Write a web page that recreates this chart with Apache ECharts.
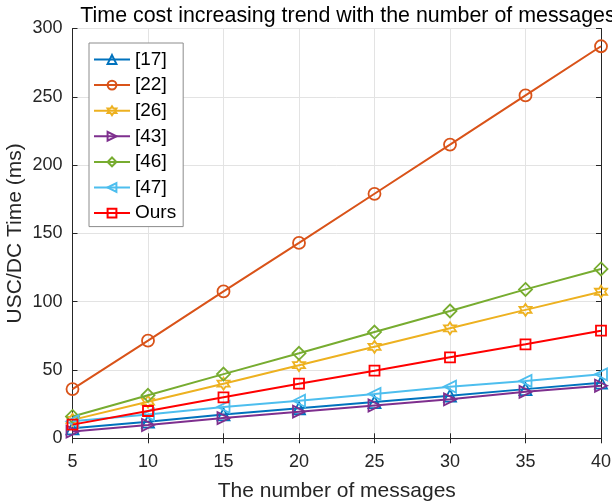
<!DOCTYPE html>
<html><head><meta charset="utf-8">
<script src="https://cdn.jsdelivr.net/npm/echarts@6/dist/echarts.min.js"></script>
<style>html,body{margin:0;padding:0;background:#fff}#c{width:612px;height:504px}</style>
</head><body><div id="c"></div>
<script>
const xs = [5, 10, 15, 20, 25, 30, 35, 40];
const s17 = [7.3, 12.2, 17.5, 22, 26.5, 31.2, 36, 40.7];
const s22 = [36, 71.5, 107.5, 143, 179, 215, 251, 287];
const s26 = [13.5, 26.8, 40, 53.5, 67, 80.5, 94, 107.3];
const s43 = [4.9, 9.7, 14.8, 19.5, 24, 28.5, 34, 38.5];
const s46 = [16, 31.5, 47, 62.2, 77.8, 93.2, 109, 124];
const s47 = [12.5, 17.5, 23, 27.5, 32.5, 37.8, 42, 46.8];
const sOurs = [10, 20, 30, 40, 49.5, 59.3, 68.8, 78.8];
const names = ['[17]', '[22]', '[26]', '[43]', '[46]', '[47]', 'Ours'];
const values = [s17, s22, s26, s43, s46, s47, sOurs];
const colors = ['#0072BD', '#D95319', '#EDB120', '#7E2F8E', '#77AC30', '#4DBEEE', '#FF0000'];
const hexagram = 'path://M0,-10 L2.9,-5 L8.66,-5 L5.8,0 L8.66,5 L2.9,5 L0,10 L-2.9,5 L-8.66,5 L-5.8,0 L-8.66,-5 L-2.9,-5 Z';
const symbols = ['triangle', 'circle', hexagram, 'triangle', 'diamond', 'triangle', 'rect'];
const rotations = [0, 0, 0, -90, 0, 90, 0];
const sizes = [12, 12, 12, 12, 13, 12, 10];

const font = 'Liberation Sans, Arial, Helvetica, sans-serif';
const axisCol = '#262626';

const chart = echarts.init(document.getElementById('c'), null, {renderer: 'canvas'});
const series = names.map((n, i) => ({
  name: n,
  type: 'line',
  data: xs.map((x, j) => [x, values[i][j]]),
  symbol: symbols[i],
  symbolRotate: rotations[i],
  symbolSize: sizes[i],
  showAllSymbol: true,
  lineStyle: {color: colors[i], width: 2},
  itemStyle: {color: 'rgba(255,255,255,0)', borderColor: colors[i], borderWidth: 1.8},
  emphasis: {disabled: true},
  animation: false,
  z: 2 + i
}));

chart.setOption({
  animation: false,
  backgroundColor: '#fff',
  title: {
    text: 'Time cost increasing trend with the number of messages',
    left: 343, top: 1, textAlign: 'center',
    textStyle: {fontFamily: font, fontSize: 21.4, fontWeight: 'normal', color: '#000'}
  },
  grid: {left: 72.5, right: 11, top: 28.5, bottom: 65.7, show: false, containLabel: false, outerBoundsMode: 'none'},
  legend: {
    orient: 'vertical', left: 89, top: 43,
    data: names,
    itemWidth: 36, itemHeight: 11, itemGap: 6.6,
    padding: [7, 7, 4, 4],
    backgroundColor: '#fff', borderColor: '#8c8c8c', borderWidth: 1,
    textStyle: {fontFamily: font, fontSize: 19, lineHeight: 18.8, color: '#000'}
  },
  xAxis: [{
    type: 'value', min: 5, max: 40, interval: 5,
    name: 'The number of messages', nameLocation: 'middle', nameGap: 42,
    nameTextStyle: {fontFamily: font, fontSize: 21, color: axisCol},
    axisLine: {lineStyle: {color: axisCol, width: 1}},
    axisTick: {inside: true, length: 5, lineStyle: {color: axisCol}},
    axisLabel: {fontFamily: font, fontSize: 18, color: axisCol, margin: 15},
    splitLine: {show: true, lineStyle: {color: '#e3e3e3', width: 1}}
  }, {
    type: 'value', min: 5, max: 40, interval: 5, position: 'top',
    axisLine: {show: true, lineStyle: {color: axisCol, width: 1}},
    axisTick: {show: true, inside: true, length: 5, lineStyle: {color: axisCol}},
    axisLabel: {show: false}, splitLine: {show: false}
  }],
  yAxis: [{
    type: 'value', min: 0, max: 300, interval: 50,
    name: 'USC/DC Time (ms)', nameLocation: 'middle', nameGap: 47, nameMoveOverlap: false,
    nameTextStyle: {fontFamily: font, fontSize: 21, color: axisCol},
    axisLine: {show: true, lineStyle: {color: axisCol, width: 1}},
    axisTick: {show: true, inside: true, length: 5, lineStyle: {color: axisCol}},
    axisLabel: {fontFamily: font, fontSize: 18, color: axisCol, margin: 10},
    splitLine: {show: true, lineStyle: {color: '#e3e3e3', width: 1}}
  }, {
    type: 'value', min: 0, max: 300, interval: 50, position: 'right',
    axisLine: {show: true, lineStyle: {color: axisCol, width: 1}},
    axisTick: {show: true, inside: true, length: 5, lineStyle: {color: axisCol}},
    axisLabel: {show: false}, splitLine: {show: false}
  }],
  series: series
});
</script></body></html>
